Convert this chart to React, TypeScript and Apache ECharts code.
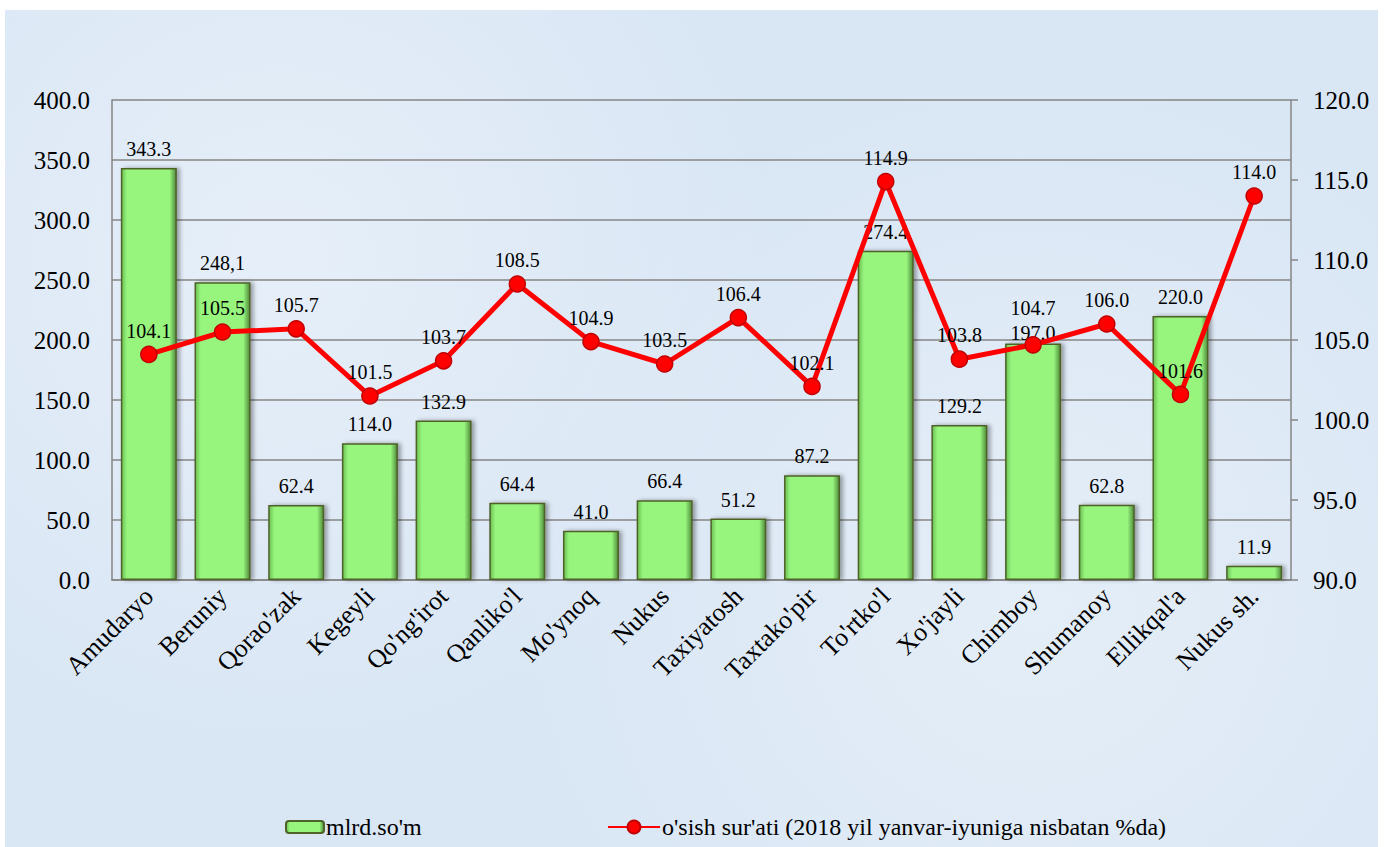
import React, { useEffect, useRef } from "react";
import * as echarts from "echarts";

const categories = [
  "Amudaryo", "Beruniy", "Qorao'zak", "Kegeyli", "Qo'ng'irot", "Qanliko'l",
  "Mo'ynoq", "Nukus", "Taxiyatosh", "Taxtako'pir", "To'rtko'l", "Xo'jayli",
  "Chimboy", "Shumanoy", "Ellikqal'a", "Nukus sh.",
];
const barValues = [343.3, 248.1, 62.4, 114.0, 132.9, 64.4, 41.0, 66.4, 51.2, 87.2, 274.4, 129.2, 197.0, 62.8, 220.0, 11.9];
const barLabelTexts = ["343.3", "248,1", "62.4", "114.0", "132.9", "64.4", "41.0", "66.4", "51.2", "87.2", "274.4", "129.2", "197.0", "62.8", "220.0", "11.9"];
const lineValues = [104.1, 105.5, 105.7, 101.5, 103.7, 108.5, 104.9, 103.5, 106.4, 102.1, 114.9, 103.8, 104.7, 106.0, 101.6, 114.0];
const barName = "mlrd.so'm";
const lineName = "o'sish sur'ati (2018 yil yanvar-iyuniga nisbatan %da)";

const FONT = "Liberation Serif";

export default function App() {
  const ref = useRef<HTMLDivElement>(null);
  useEffect(() => {
    if (!ref.current) return;
    const chart = echarts.init(ref.current, null, { renderer: "svg" });
    const lineData = lineValues.map((v, i) =>
      i === 12 ? { value: v, label: { distance: 18 } } : v
    );
    const barData = barValues.map((v, i) =>
      i === 12 ? { value: v, label: { distance: 1 } } : v
    );
    chart.setOption({
      animation: false,
      backgroundColor: "transparent",
      textStyle: { fontFamily: FONT, color: "#000" },
      grid: { left: 107, right: 87, top: 90, bottom: 267 },
      legend: [
        {
          data: [barName],
          left: 275,
          top: 800,
          itemWidth: 38,
          itemHeight: 12,
          itemGap: 0,
          textStyle: { fontFamily: FONT, fontSize: 24, color: "#000", padding: [0, 0, 0, -3] },
        },
        {
          data: [lineName],
          left: 597,
          top: 800,
          itemWidth: 52,
          itemHeight: 16,
          textStyle: { fontFamily: FONT, fontSize: 24, color: "#000", padding: [0, 0, 0, -3] },
        },
      ],
      xAxis: {
        type: "category",
        data: categories,
        axisLine: { lineStyle: { color: "#868686", width: 1.5 } },
        axisTick: { show: false },
        axisLabel: {
          rotate: 45,
          margin: 12,
          interval: 0,
          fontFamily: FONT,
          fontSize: 26,
          color: "#000",
        },
      },
      yAxis: [
        {
          type: "value",
          min: 0,
          max: 400,
          interval: 50,
          axisLine: { show: true, lineStyle: { color: "#868686", width: 1.5 } },
          axisTick: { show: false },
          splitLine: { lineStyle: { color: "#868686", width: 1.5 } },
          axisLabel: {
            margin: 22,
            fontFamily: FONT,
            fontSize: 25,
            color: "#000",
            formatter: (v: number) => v.toFixed(1),
          },
        },
        {
          type: "value",
          min: 90,
          max: 120,
          interval: 5,
          position: "right",
          axisLine: { show: true, lineStyle: { color: "#868686", width: 1.5 } },
          axisTick: { show: true, inside: false, length: 7, lineStyle: { color: "#868686", width: 1.5 } },
          splitLine: { show: false },
          axisLabel: {
            margin: 22,
            fontFamily: FONT,
            fontSize: 25,
            color: "#000",
            formatter: (v: number) => v.toFixed(1),
          },
        },
      ],
      series: [
        {
          name: barName,
          type: "bar",
          data: barData,
          barWidth: "76%",
          itemStyle: {
            color: {
              type: "linear",
              x: 0, y: 0, x2: 1, y2: 0,
              colorStops: [
                { offset: 0, color: "#6cbf52" },
                { offset: 0.1, color: "#97f57e" },
                { offset: 0.88, color: "#97f57e" },
                { offset: 1, color: "#4f8a3a" },
              ],
            },
            borderColor: "#4f6228",
            borderWidth: 1.5,
            shadowColor: "rgba(0,0,0,0.35)",
            shadowBlur: 4,
            shadowOffsetX: 3,
            shadowOffsetY: 0,
          },
          label: {
            show: true,
            position: "top",
            distance: 9,
            fontFamily: FONT,
            fontSize: 20,
            color: "#000",
            formatter: (p: any) => barLabelTexts[p.dataIndex],
          },
          z: 2,
        },
        {
          name: lineName,
          type: "line",
          yAxisIndex: 1,
          data: lineData,
          symbol: "circle",
          symbolSize: 16,
          lineStyle: { color: "#ff0000", width: 5 },
          itemStyle: { color: "#ff0000", borderColor: "#c00000", borderWidth: 1.5 },
          label: {
            show: true,
            position: "top",
            distance: 5,
            fontFamily: FONT,
            fontSize: 20,
            color: "#000",
            formatter: (p: any) => Number(p.value).toFixed(1),
          },
          z: 5,
        },
      ],
    });
    return () => chart.dispose();
  }, []);

  return (
    <div style={{ position: "fixed", left: 0, top: 0, width: 1389, height: 847, background: "#ffffff", overflow: "hidden" }}>
      <div
        style={{
          position: "absolute",
          left: 5,
          top: 10,
          width: 1373,
          height: 837,
          background:
            "radial-gradient(circle at 20% 30%, #e6eff9 0%, rgba(230,239,249,0) 40%), radial-gradient(circle at 75% 70%, #e4eef8 0%, rgba(228,238,248,0) 45%), #d9e6f4",
        }}
      >
        <div ref={ref} style={{ width: 1373, height: 837 }} />
      </div>
    </div>
  );
}
